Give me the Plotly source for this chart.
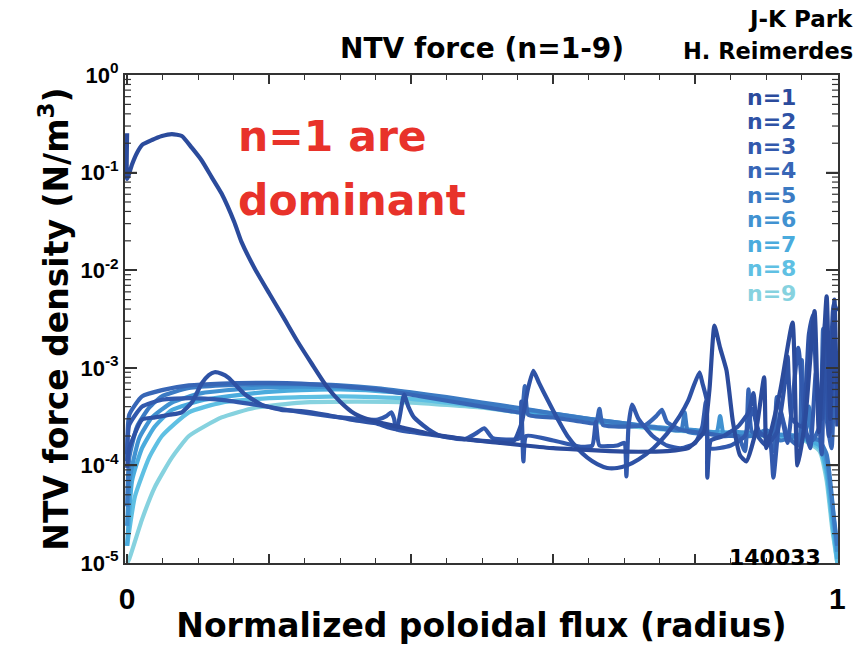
import plotly.graph_objects as go

# ---------------- data ----------------
series_names = ["n=1", "n=2", "n=3", "n=4", "n=5", "n=6", "n=7", "n=8", "n=9"]
series_colors = ["#2b4b9c", "#2e52a5", "#3259ad", "#3766b6", "#3b7ac3", "#4192d1",
                 "#4aabdd", "#5fc0e3", "#86d2df"]

n1_x = [0, 0, 0.007, 0.014, 0.021, 0.035, 0.049, 0.063, 0.077, 0.091, 0.105, 0.119, 0.133, 0.151,
        0.161, 0.18, 0.2, 0.22, 0.24, 0.26, 0.28, 0.3, 0.32, 0.34, 0.36, 0.386, 0.42, 0.456, 0.49,
        0.526, 0.56, 0.6, 0.64, 0.68, 0.72, 0.76, 0.79, 0.812, 0.82, 0.827, 0.835, 0.844, 0.853,
        0.863, 0.872, 0.886, 0.897, 0.9, 0.905, 0.92, 0.937, 0.944, 0.955, 0.968, 0.974, 0.985,
        0.99, 0.996, 1.0]
n1_y = [0.253, 0.086, 0.122, 0.16, 0.192, 0.216, 0.237, 0.248, 0.237, 0.18, 0.133, 0.09, 0.061,
        0.031, 0.0195, 0.0103, 5.8e-3, 3.3e-3, 1.86e-3, 1.1e-3, 6.6e-4, 4.5e-4, 3.4e-4, 2.95e-4,
        2.7e-4, 2.45e-4, 2.15e-4, 1.95e-4, 1.8e-4, 1.7e-4, 1.6e-4, 1.5e-4, 1.45e-4, 1.4e-4, 1.38e-4,
        1.4e-4, 1.5e-4, 2.2e-4, 6e-4, 2.7e-3, 1.6e-3, 9.4e-4, 2.8e-4, 1.27e-4, 1.1e-4, 2.35e-4,
        8e-4, 1.5e-4, 2e-4, 6e-4, 2.9e-3, 1e-4, 3e-4, 3.8e-3, 2.2e-4, 5.4e-3, 3e-4, 5e-3, 2.5e-4]

n2_x = [0, 0.003, 0.021, 0.039, 0.06, 0.077, 0.091, 0.105, 0.115, 0.123, 0.133, 0.143, 0.155,
        0.165, 0.189, 0.217, 0.245, 0.28, 0.32, 0.35, 0.379, 0.383, 0.39, 0.396, 0.404, 0.424,
        0.442, 0.48, 0.52, 0.545, 0.556, 0.564, 0.572, 0.58, 0.592, 0.606, 0.62, 0.634, 0.648,
        0.662, 0.676, 0.69, 0.704, 0.72, 0.741, 0.76, 0.778, 0.79, 0.797, 0.806, 0.81, 0.816,
        0.817, 0.822, 0.84, 0.86, 0.875, 0.882, 0.888, 0.9, 0.915, 0.925, 0.93, 0.936, 0.95, 0.96,
        0.966, 0.971, 0.978, 0.983, 0.988, 0.995, 1.0]
n2_y = [9.4e-5, 1.49e-4, 2.95e-4, 3.1e-4, 3.3e-4, 3.5e-4, 4.4e-4, 6.9e-4, 8.4e-4, 9.0e-4, 8.7e-4,
        7.9e-4, 6.4e-4, 5.4e-4, 4.2e-4, 3.7e-4, 3.6e-4, 3.3e-4, 2.9e-4, 2.7e-4, 2.35e-4, 2.95e-4,
        5.3e-4, 4.0e-4, 3.1e-4, 2.35e-4, 2.0e-4, 1.85e-4, 1.75e-4, 1.8e-4, 2.8e-4, 5.9e-4, 9.3e-4,
        7.0e-4, 4.7e-4, 3.0e-4, 2.0e-4, 1.5e-4, 1.2e-4, 1.03e-4, 9.4e-5, 9.4e-5, 1.0e-4, 1.15e-4,
        1.5e-4, 2.1e-4, 3.2e-4, 4.6e-4, 6.3e-4, 9.0e-4, 7.0e-4, 4.7e-4, 7.5e-5, 1.8e-4, 2.0e-4,
        2.5e-4, 3.5e-4, 5.5e-4, 2e-4, 1.6e-4, 2.2e-4, 6e-4, 1.3e-3, 3e-4, 2.5e-4, 2.2e-3, 3.5e-3,
        6e-4, 3e-4, 3e-3, 2e-4, 4.5e-3, 3.8e-3]

n3_x = [0, 0.003, 0.021, 0.049, 0.087, 0.133, 0.18, 0.245, 0.3, 0.353, 0.365, 0.372, 0.376, 0.379,
        0.4, 0.44, 0.475, 0.49, 0.503, 0.515, 0.552, 0.555, 0.558, 0.562, 0.6, 0.64, 0.655, 0.66,
        0.665, 0.69, 0.7, 0.703, 0.706, 0.711, 0.72, 0.74, 0.76, 0.78, 0.8, 0.81, 0.815, 0.82, 0.85,
        0.87, 0.88, 0.89, 0.905, 0.91, 0.92, 0.93, 0.945, 0.955, 0.962, 0.97, 0.978, 0.983, 0.99,
        0.995, 1.0]
n3_y = [1.3e-4, 2.6e-4, 4.0e-4, 4.7e-4, 4.9e-4, 4.7e-4, 4.2e-4, 3.5e-4, 3.1e-4, 2.95e-4, 3.2e-4,
        3.5e-4, 3.0e-4, 2.35e-4, 2.2e-4, 2.0e-4, 1.85e-4, 2.1e-4, 2.4e-4, 1.9e-4, 1.9e-4, 4.5e-4,
        1.1e-4, 2.0e-4, 1.8e-4, 1.55e-4, 1.6e-4, 2.8e-4, 1.6e-4, 1.6e-4, 1.7e-4, 7.7e-5, 2.5e-4, 4.2e-4,
        3.0e-4, 2.0e-4, 1.6e-4, 1.5e-4, 1.7e-4, 2.5e-4, 4.5e-4, 1.5e-4, 1.6e-4, 2.0e-4, 3.8e-4, 2.2e-4,
        1.8e-4, 7.5e-5, 3.5e-4, 1.7e-4, 1.6e-3, 2.5e-4, 1.5e-4, 9e-4, 1.3e-4, 2.5e-3, 2.2e-4, 1.8e-3,
        6e-4]

n4_x = [0, 0.003, 0.021, 0.049, 0.087, 0.133, 0.2, 0.245, 0.3, 0.35, 0.4, 0.45, 0.5, 0.54, 0.555,
        0.56, 0.565, 0.6, 0.64, 0.66, 0.665, 0.67, 0.7, 0.73, 0.745, 0.753, 0.76, 0.78, 0.8, 0.82,
        0.84, 0.86, 0.87, 0.875, 0.88, 0.9, 0.91, 0.915, 0.93, 0.945, 0.95, 0.955, 0.965, 0.975, 0.98,
        0.985, 0.992, 0.996, 1.0]
n4_y = [1.1e-4, 3.3e-4, 5.1e-4, 5.9e-4, 6.6e-4, 6.9e-4, 7.0e-4, 6.9e-4, 6.5e-4, 6.0e-4, 5.3e-4,
        4.6e-4, 4.0e-4, 3.6e-4, 3.5e-4, 6.5e-4, 3.3e-4, 3.1e-4, 2.8e-4, 2.7e-4, 3.8e-4, 2.6e-4, 2.5e-4,
        2.6e-4, 3.2e-4, 3.7e-4, 2.8e-4, 2.3e-4, 2.2e-4, 2.1e-4, 2.0e-4, 2.0e-4, 1.4e-4, 6e-4, 2.2e-4,
        2.0e-4, 1.4e-4, 5e-4, 2.0e-4, 1.6e-4, 1.2e-3, 2.2e-4, 1.8e-4, 2.5e-4, 2.5e-3, 3e-4, 1.5e-4,
        8e-4, 3e-4]

n5_x = [0, 0.003, 0.014, 0.031, 0.049, 0.087, 0.133, 0.2, 0.245, 0.3, 0.35, 0.4, 0.45, 0.5, 0.55,
        0.6, 0.65, 0.7, 0.75, 0.78, 0.785, 0.79, 0.82, 0.85, 0.88, 0.9, 0.92, 0.94, 0.955, 0.96,
        0.965, 0.975, 0.985, 0.99, 0.995, 1.0]
n5_y = [3.8e-5, 1.2e-4, 2.5e-4, 3.9e-4, 5.1e-4, 6.2e-4, 6.6e-4, 6.8e-4, 6.8e-4, 6.6e-4, 6.2e-4,
        5.6e-4, 5.0e-4, 4.4e-4, 3.9e-4, 3.4e-4, 3.0e-4, 2.7e-4, 2.4e-4, 2.3e-4, 3.5e-4, 2.2e-4,
        2.1e-4, 2.0e-4, 2.0e-4, 2.3e-4, 1.8e-4, 2.0e-4, 2.2e-4, 4e-4, 1.9e-4, 1.8e-4, 1.3e-4, 7e-5,
        3e-5, 1.5e-5]

n6_x = [0, 0.004, 0.017, 0.035, 0.063, 0.105, 0.175, 0.245, 0.3, 0.35, 0.4, 0.45, 0.5, 0.55, 0.6,
        0.65, 0.7, 0.75, 0.8, 0.83, 0.835, 0.84, 0.85, 0.9, 0.95, 0.975, 0.985, 0.993, 1.0]
n6_y = [2.4e-5, 7.5e-5, 1.9e-4, 3.1e-4, 4.4e-4, 5.5e-4, 6.2e-4, 6.4e-4, 6.3e-4, 6.0e-4, 5.5e-4,
        4.9e-4, 4.3e-4, 3.8e-4, 3.4e-4, 3.0e-4, 2.7e-4, 2.45e-4, 2.3e-4, 2.2e-4, 3.2e-4, 2.1e-4,
        2.2e-4, 2.1e-4, 2.0e-4, 1.8e-4, 1.1e-4, 4e-5, 1.3e-5]

n7_x = [0, 0.007, 0.021, 0.039, 0.063, 0.109, 0.18, 0.245, 0.3, 0.35, 0.4, 0.45, 0.5, 0.55, 0.6,
        0.65, 0.7, 0.75, 0.8, 0.85, 0.9, 0.95, 0.975, 0.985, 0.993, 1.0]
n7_y = [1.5e-5, 7e-5, 1.5e-4, 2.5e-4, 3.7e-4, 4.7e-4, 5.5e-4, 5.9e-4, 6.0e-4, 5.8e-4, 5.4e-4,
        4.8e-4, 4.2e-4, 3.7e-4, 3.3e-4, 2.95e-4, 2.65e-4, 2.4e-4, 2.25e-4, 2.15e-4, 2.1e-4, 1.9e-4,
        1.6e-4, 9e-5, 3e-5, 1.1e-5]

n8_x = [0, 0.011, 0.031, 0.049, 0.087, 0.133, 0.2, 0.245, 0.3, 0.35, 0.4, 0.45, 0.5, 0.55, 0.6,
        0.65, 0.7, 0.75, 0.8, 0.85, 0.9, 0.95, 0.975, 0.985, 0.993, 1.0]
n8_y = [1.5e-5, 4.8e-5, 1.2e-4, 2.0e-4, 3.5e-4, 4.4e-4, 4.9e-4, 5.0e-4, 5.1e-4, 5.0e-4, 4.8e-4,
        4.4e-4, 4.0e-4, 3.6e-4, 3.25e-4, 2.9e-4, 2.6e-4, 2.4e-4, 2.25e-4, 2.15e-4, 2.05e-4, 1.9e-4,
        1.5e-4, 8e-5, 2.5e-5, 1.0e-5]

n9_x = [0, 0.003, 0.021, 0.039, 0.063, 0.087, 0.133, 0.18, 0.245, 0.325, 0.4, 0.5, 0.55, 0.6, 0.65,
        0.7, 0.75, 0.8, 0.85, 0.9, 0.95, 0.975, 0.985, 0.993, 1.0]
n9_y = [1.0e-5, 1.1e-5, 2.8e-5, 6e-5, 1.2e-4, 2.0e-4, 3.1e-4, 3.9e-4, 4.4e-4, 4.5e-4, 4.4e-4,
        3.9e-4, 3.5e-4, 3.2e-4, 2.85e-4, 2.55e-4, 2.35e-4, 2.2e-4, 2.1e-4, 2.0e-4, 1.85e-4, 1.4e-4,
        7e-5, 2.2e-5, 1.0e-5]

y_tickvals = [1e-5, 1e-4, 1e-3, 1e-2, 1e-1, 1e0]
y_ticktext = ["10<sup>-5</sup>", "10<sup>-4</sup>", "10<sup>-3</sup>", "10<sup>-2</sup>",
              "10<sup>-1</sup>", "10<sup>0</sup>"]
y_minor_vals = [2e-5, 3e-5, 4e-5, 5e-5, 6e-5, 7e-5, 8e-5, 9e-5,
                2e-4, 3e-4, 4e-4, 5e-4, 6e-4, 7e-4, 8e-4, 9e-4,
                2e-3, 3e-3, 4e-3, 5e-3, 6e-3, 7e-3, 8e-3, 9e-3,
                2e-2, 3e-2, 4e-2, 5e-2, 6e-2, 7e-2, 8e-2, 9e-2,
                0.2, 0.3, 0.4, 0.5, 0.6, 0.7, 0.8, 0.9]
x_tickvals = [0, 0.2, 0.4, 0.6, 0.8, 1.0]
x_ticktext = ["0", "", "", "", "", "1"]

# ---------------- figure ----------------
X_RANGE = [-0.003, 1.001]
series = [(n1_x, n1_y), (n2_x, n2_y), (n3_x, n3_y), (n4_x, n4_y), (n5_x, n5_y),
          (n6_x, n6_y), (n7_x, n7_y), (n8_x, n8_y), (n9_x, n9_y)]

fig = go.Figure()
for i in reversed(range(len(series))):
    sx, sy = series[i]
    fig.add_trace(go.Scatter(x=sx, y=sy, mode="lines", name=series_names[i],
                             line=dict(color=series_colors[i], width=4.2, shape="spline",
                                       smoothing=0.5),
                             showlegend=False))

TXT = "'DejaVu Sans', Verdana, sans-serif"
TICK = "'Liberation Sans', Arial, sans-serif"
axcol = "#333333"

# y-axis inside tick marks (both sides), as thin line segments on the log axis
span = X_RANGE[1] - X_RANGE[0]
def tick_segments(vals, frac):
    xs, ys = [], []
    for v in vals:
        xs += [X_RANGE[0], X_RANGE[0] + frac * span, None, X_RANGE[1] - frac * span, X_RANGE[1], None]
        ys += [v, v, None, v, v, None]
    return xs, ys

mx, my = tick_segments(y_tickvals[1:-1], 12 / 713)
fig.add_trace(go.Scatter(x=mx, y=my, mode="lines", line=dict(color=axcol, width=1.6),
                         showlegend=False, hoverinfo="skip", connectgaps=False))
nx, ny = tick_segments(y_minor_vals, 6 / 713)
fig.add_trace(go.Scatter(x=nx, y=ny, mode="lines", line=dict(color=axcol, width=1.2),
                         showlegend=False, hoverinfo="skip", connectgaps=False))

fig.update_layout(
    width=865, height=650,
    margin=dict(l=125, r=27, t=75, b=72),
    paper_bgcolor="white", plot_bgcolor="white",
    xaxis=dict(range=X_RANGE, tickmode="array", tickvals=x_tickvals, ticktext=x_ticktext,
               ticks="inside", ticklen=9, tickwidth=1.5, tickcolor=axcol,
               showline=True, linecolor=axcol, linewidth=2, mirror="ticks",
               showgrid=False, zeroline=False, ticklabelstandoff=8,
               minor=dict(tickmode="linear", tick0=0, dtick=0.05, ticks="inside", ticklen=5,
                          tickwidth=1.2, tickcolor=axcol, showgrid=False),
               tickfont=dict(family=TICK, size=30, color="black", weight="bold"),
               title=dict(text="Normalized poloidal flux (radius)", standoff=0,
                          font=dict(family=TXT, size=33, color="black", weight="bold"))),
    yaxis=dict(type="log", range=[-5, 0], tickmode="array", tickvals=y_tickvals,
               ticktext=y_ticktext,
               ticks="inside", ticklen=12, tickwidth=1.6, tickcolor=axcol,
               showline=True, linecolor=axcol, linewidth=2, mirror="ticks",
               showgrid=False, zeroline=False,
               tickfont=dict(family=TICK, size=22, color="black", weight="bold"),
               title=dict(text="NTV force density (N/m<sup>3</sup>)", standoff=2,
                          font=dict(family=TXT, size=33, color="black", weight="bold"))),
)

annotations = []
annotations.append(dict(text="NTV force (n=1-9)", xref="paper", yref="paper", x=0.5, y=1.054,
                        xanchor="center", yanchor="middle", showarrow=False,
                        font=dict(family=TXT, size=28, color="black", weight="bold")))
annotations.append(dict(text="J-K Park", xref="paper", yref="paper", x=1.024, y=1.115,
                        xanchor="right", yanchor="middle", showarrow=False,
                        font=dict(family=TXT, size=23, color="black", weight="bold")))
annotations.append(dict(text="H. Reimerdes", xref="paper", yref="paper", x=1.024, y=1.05,
                        xanchor="right", yanchor="middle", showarrow=False,
                        font=dict(family=TXT, size=22.5, color="black", weight="bold")))
for i, name in enumerate(series_names):
    annotations.append(dict(text=name, xref="paper", yref="paper", x=0.944, y=0.954 - i * 0.0502,
                            xanchor="right", yanchor="middle", showarrow=False,
                            font=dict(family=TXT, size=22, color=series_colors[i], weight="bold")))
annotations.append(dict(text="n=1 are", xref="paper", yref="paper", x=0.155, y=0.874,
                        xanchor="left", yanchor="middle", showarrow=False,
                        font=dict(family=TXT, size=42.5, color="#e8322a", weight="bold")))
annotations.append(dict(text="dominant", xref="paper", yref="paper", x=0.155, y=0.743,
                        xanchor="left", yanchor="middle", showarrow=False,
                        font=dict(family=TXT, size=42.5, color="#e8322a", weight="bold")))
annotations.append(dict(text="140033", xref="paper", yref="paper", x=0.979, y=0.012,
                        xanchor="right", yanchor="middle", showarrow=False,
                        font=dict(family=TXT, size=22, color="black", weight="bold")))
fig.update_layout(annotations=annotations)

fig.write_html("out.html")
